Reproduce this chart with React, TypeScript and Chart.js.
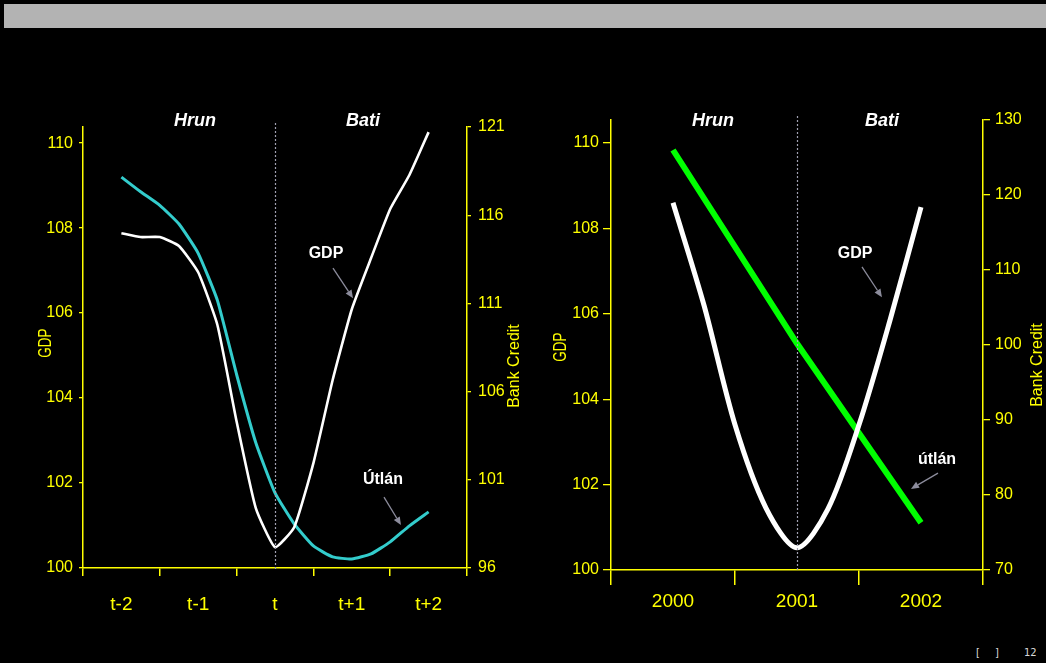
import React, { useEffect, useRef } from 'react';
import { Chart, registerables } from 'chart.js';

Chart.register(...registerables);

const FONT = '"Liberation Sans", Arial, Helvetica, sans-serif';
const YELLOW = '#ffff00';

// ---------- Left chart data (quarterly, t-2 .. t+2) ----------
const leftCategories = ['t-2', 't-1', 't', 't+1', 't+2'];
const leftQuarterPos = [0, 0.25, 0.5, 0.75, 1, 1.25, 1.5, 1.75, 2, 2.25, 2.5, 2.75, 3, 3.25, 3.5, 3.75, 4];
const leftGdp = [107.88, 107.79, 107.79, 107.58, 106.96, 105.72, 103.45, 101.41, 100.49, 100.96, 102.47, 104.42, 106.09, 107.29, 108.45, 109.25, 110.26];
const leftCredit = [118.16, 117.33, 116.56, 115.5, 113.84, 111.17, 106.97, 103.1, 100.26, 98.5, 97.25, 96.63, 96.51, 96.8, 97.48, 98.39, 99.18];
const leftGdpTicks = [100, 102, 104, 106, 108, 110];
const leftCreditTicks = [96, 101, 106, 111, 116, 121];

// ---------- Right chart data (quarterly, 2000 .. 2002) ----------
const rightCategories = ['2000', '2001', '2002'];
const rightQuarterPos = [0, 0.25, 0.5, 0.75, 1, 1.25, 1.5, 1.75, 2];
const rightGdp = [108.6, 106.2, 103.4, 101.45, 100.52, 101.43, 103.4, 105.85, 108.5];
const rightCreditPos = [0, 1, 2];
const rightCredit = [126, 100.2, 76.3];
const rightGdpTicks = [100, 102, 104, 106, 108, 110];
const rightCreditTicks = [70, 80, 90, 100, 110, 120, 130];

function drawArrow(ctx: CanvasRenderingContext2D, x1: number, y1: number, x2: number, y2: number) {
  const ang = Math.atan2(y2 - y1, x2 - x1);
  const head = 8;
  const hw = 3.5;
  const bx = x2 - head * Math.cos(ang);
  const by = y2 - head * Math.sin(ang);
  ctx.beginPath();
  ctx.moveTo(x1, y1);
  ctx.lineTo(bx, by);
  ctx.stroke();
  ctx.beginPath();
  ctx.moveTo(x2, y2);
  ctx.lineTo(bx + hw * Math.sin(ang), by - hw * Math.cos(ang));
  ctx.lineTo(bx - hw * Math.sin(ang), by + hw * Math.cos(ang));
  ctx.closePath();
  ctx.fill();
}

const overlayPlugin = {
  id: 'overlay',
  afterDatasetsDraw(chart: any, _args: any, opts: any) {
    const ctx: CanvasRenderingContext2D = chart.ctx;
    const xs = chart.scales.xd;
    const ys = chart.scales.y;
    const area = chart.chartArea;
    ctx.save();
    // dotted divider
    const dx = Math.round(xs.getPixelForValue(opts.divider)) + 0.5;
    ctx.strokeStyle = '#a0a0b0';
    ctx.lineWidth = 1.2;
    ctx.setLineDash([2, 2]);
    ctx.beginPath();
    ctx.moveTo(dx, area.top - 4);
    ctx.lineTo(dx, area.bottom + 2);
    ctx.stroke();
    ctx.setLineDash([]);

    // headings
    ctx.fillStyle = '#ffffff';
    ctx.textAlign = 'center';
    ctx.textBaseline = 'middle';
    ctx.font = `italic bold 18px ${FONT}`;
    for (const h of opts.headings) {
      ctx.fillText(h.text, xs.getPixelForValue(h.x), ys.getPixelForValue(h.y));
    }
    // notes
    ctx.font = `bold 16px ${FONT}`;
    for (const n of opts.notes) {
      ctx.fillText(n.text, xs.getPixelForValue(n.x), ys.getPixelForValue(n.y));
    }
    // arrows
    ctx.strokeStyle = '#8c8c9c';
    ctx.fillStyle = '#8c8c9c';
    ctx.lineWidth = 1.3;
    for (const a of opts.arrows) {
      drawArrow(
        ctx,
        xs.getPixelForValue(a.x1), ys.getPixelForValue(a.y1),
        xs.getPixelForValue(a.x2), ys.getPixelForValue(a.y2)
      );
    }
    // axis titles
    ctx.fillStyle = YELLOW;
    ctx.textAlign = 'center';
    ctx.textBaseline = 'middle';
    const lt = opts.leftTitle;
    ctx.save();
    ctx.translate(area.left + lt.dx, area.top + lt.dy);
    ctx.rotate(-Math.PI / 2);
    ctx.scale(lt.sx, 1);
    ctx.font = `${lt.size}px ${FONT}`;
    ctx.fillText(lt.text, 0, 0);
    ctx.restore();
    const rt = opts.rightTitle;
    ctx.save();
    ctx.translate(area.right + rt.dx, area.top + rt.dy);
    ctx.rotate(-Math.PI / 2);
    ctx.font = `${rt.size}px ${FONT}`;
    ctx.fillText(rt.text, 0, 0);
    ctx.restore();
    ctx.restore();
  },
};

function yScale(position: 'left' | 'right', min: number, max: number, ticks: number[], width: number, tickLen: number, pad: number) {
  return {
    type: 'linear',
    position,
    min,
    max,
    afterBuildTicks: (s: any) => {
      s.ticks = ticks.map((v) => ({ value: v }));
    },
    afterFit: (s: any) => {
      s.width = width;
    },
    grid: { drawOnChartArea: false, drawTicks: true, tickLength: tickLen, color: YELLOW, lineWidth: 1.3 },
    border: { display: true, color: YELLOW, width: 1.5 },
    ticks: { color: YELLOW, font: { family: FONT, size: 16 }, padding: pad },
  };
}

function xScale(categories: string[], height: number, tickLen: number, pad: number) {
  return {
    type: 'category',
    position: 'bottom',
    labels: categories,
    offset: true,
    afterFit: (s: any) => {
      s.height = height;
    },
    grid: { offset: true, drawOnChartArea: false, drawTicks: true, tickLength: tickLen, color: YELLOW, lineWidth: 1.5 },
    border: { display: true, color: YELLOW, width: 1.5 },
    ticks: { color: YELLOW, font: { family: FONT, size: 19 }, padding: pad, maxRotation: 0, autoSkip: false },
  };
}

function leftConfig(): any {
  return {
    type: 'line',
    data: {
      datasets: [
        {
          label: 'GDP',
          data: leftQuarterPos.map((x, i) => ({ x, y: leftGdp[i] })),
          xAxisID: 'xd',
          yAxisID: 'y',
          borderColor: '#ffffff',
          borderWidth: 2.6,
          pointRadius: 0,
          tension: 0.15,
        },
        {
          label: 'Útlán',
          data: leftQuarterPos.map((x, i) => ({ x, y: leftCredit[i] })),
          xAxisID: 'xd',
          yAxisID: 'y1',
          borderColor: '#33cccc',
          borderWidth: 3,
          pointRadius: 0,
          tension: 0.15,
        },
      ],
    },
    options: {
      responsive: false,
      animation: false,
      events: [],
      layout: { padding: { top: 27, left: 0, right: 0, bottom: 0 } },
      plugins: {
        legend: { display: false },
        tooltip: { enabled: false },
        overlay: {
          divider: 2,
          headings: [
            { text: 'Hrun', x: 0.958, y: 110.52 },
            { text: 'Bati', x: 3.146, y: 110.52 },
          ],
          notes: [
            { text: 'GDP', x: 2.664, y: 107.39 },
            { text: 'Útlán', x: 3.406, y: 102.09 },
          ],
          arrows: [
            { x1: 2.755, y1: 107.06, x2: 3.016, y2: 106.35 },
            { x1: 3.419, y1: 101.67, x2: 3.64, y2: 101.01 },
          ],
          leftTitle: { text: 'GDP', dx: -37, dy: 216, size: 18, sx: 0.75 },
          rightTitle: { text: 'Bank Credit', dx: 48, dy: 239, size: 16 },
        },
      },
      scales: {
        x: xScale(leftCategories, 72, 8, 17),
        xd: { type: 'linear', display: false, min: -0.5, max: 4.5 },
        y: yScale('left', 100, 110.38, leftGdpTicks, 83, 4, 6),
        y1: yScale('right', 96, 121, leftCreditTicks, 63, 4, 7),
      },
    },
    plugins: [overlayPlugin],
  };
}

function rightConfig(): any {
  return {
    type: 'line',
    data: {
      datasets: [
        {
          label: 'GDP',
          data: rightQuarterPos.map((x, i) => ({ x, y: rightGdp[i] })),
          xAxisID: 'xd',
          yAxisID: 'y',
          borderColor: '#ffffff',
          borderWidth: 5,
          pointRadius: 0,
          tension: 0.3,
        },
        {
          label: 'útlán',
          data: rightCreditPos.map((x, i) => ({ x, y: rightCredit[i] })),
          xAxisID: 'xd',
          yAxisID: 'y1',
          borderColor: '#00ff00',
          borderWidth: 6,
          pointRadius: 0,
          tension: 0,
        },
      ],
    },
    options: {
      responsive: false,
      animation: false,
      events: [],
      layout: { padding: { top: 20, left: 0, right: 0, bottom: 0 } },
      plugins: {
        legend: { display: false },
        tooltip: { enabled: false },
        overlay: {
          divider: 1,
          headings: [
            { text: 'Hrun', x: 0.323, y: 110.52 },
            { text: 'Bati', x: 1.685, y: 110.52 },
          ],
          notes: [
            { text: 'GDP', x: 1.468, y: 107.42 },
            { text: 'útlán', x: 2.129, y: 102.58 },
          ],
          arrows: [
            { x1: 1.524, y1: 107.1, x2: 1.685, y2: 106.39 },
            { x1: 2.137, y1: 102.27, x2: 1.919, y2: 101.9 },
          ],
          leftTitle: { text: 'GDP', dx: -50, dy: 227, size: 18, sx: 0.75 },
          rightTitle: { text: 'Bank Credit', dx: 55, dy: 245, size: 16 },
        },
      },
      scales: {
        x: xScale(rightCategories, 70, 15, 5),
        xd: { type: 'linear', display: false, min: -0.5, max: 2.5 },
        y: yScale('left', 100, 110.54, rightGdpTicks, 81, 8, 4),
        y1: yScale('right', 70, 130, rightCreditTicks, 63, 7, 5),
      },
    },
    plugins: [overlayPlugin],
  };
}

function ChartCanvas(props: { config: () => any; left: number; top: number; width: number; height: number }) {
  const ref = useRef<HTMLCanvasElement | null>(null);
  useEffect(() => {
    if (!ref.current) return;
    const chart = new Chart(ref.current, props.config());
    return () => chart.destroy();
  }, []);
  return (
    <canvas
      ref={ref}
      width={props.width}
      height={props.height}
      style={{ position: 'absolute', left: props.left, top: props.top, width: props.width, height: props.height }}
    />
  );
}

const footStyle: React.CSSProperties = {
  position: 'absolute',
  top: 647,
  color: '#d8d8d8',
  fontSize: 10,
  fontFamily: '"DejaVu Sans", sans-serif',
  lineHeight: '12px',
};

export default function App() {
  return (
    <div
      style={{
        position: 'fixed',
        left: 0,
        top: 0,
        width: 1046,
        height: 663,
        background: '#000000',
        overflow: 'hidden',
        fontFamily: FONT,
      }}
    >
      <div style={{ position: 'absolute', left: 4, top: 4, width: 1042, height: 24, background: '#b3b3b3' }} />
      <ChartCanvas config={leftConfig} left={0} top={100} width={530} height={540} />
      <ChartCanvas config={rightConfig} left={530} top={100} width={516} height={540} />
      <div style={{ ...footStyle, left: 976 }}>[</div>
      <div style={{ ...footStyle, left: 995 }}>]</div>
      <div style={{ ...footStyle, left: 1024 }}>12</div>
    </div>
  );
}
